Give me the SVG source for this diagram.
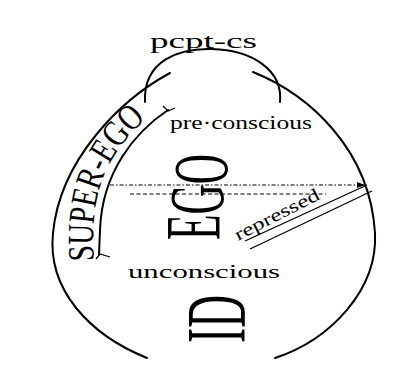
<svg xmlns="http://www.w3.org/2000/svg" width="403" height="365" viewBox="0 0 403 365">
<style>
.ln{fill:none;stroke:#000;stroke-width:2;stroke-linecap:round}
.thin{fill:none;stroke:#000;stroke-width:1.3}
.dash{fill:none;stroke:#000;stroke-width:1.2;stroke-dasharray:4 2.5}
.dashdot{fill:none;stroke:#000;stroke-width:1.2;stroke-dasharray:4 2 1.5 2}
.sm{font-family:"Liberation Serif",serif;fill:#000}
.big{font-family:"Liberation Serif",serif;fill:#000}
</style>
<defs>
<marker id="ah" markerWidth="8" markerHeight="6" refX="7" refY="3" orient="auto" markerUnits="userSpaceOnUse">
<path d="M0,0 L8,3 L0,6 Z" fill="#000"/>
</marker>
<path id="sep" d="M94,263 C90,200 100,160 148,117"/>
</defs>
<rect width="403" height="365" fill="#fff"/>
<g id="connectors">
<path id="outer-left" class="ln" d="M170,73 C120,100 60,160 53,233 C47,290 90,335 147,358"/>
<path id="outer-right" class="ln" d="M253,72 C310,95 370,150 375,233 C378,290 330,340 275,358"/>
<path id="pcpt-arc" class="ln" d="M145,102 C143,60 180,48 212,49 C252,50 283,70 280,102"/>
<path id="superego-arc" class="ln" d="M168,110 C135,132 102,172 100,230 L99,255"/>
<path class="thin" d="M163,106 L168,111 L175,108"/>
<path class="thin" d="M96,259 L100,254 L110,257"/>
<path id="line-pcs" class="dashdot" d="M110,185 L364,185" marker-end="url(#ah)"/>
<path id="line-ucs" class="dash" d="M130,194 L326,194"/>
<path class="thin" d="M367,185 L245,241"/>
<path class="thin" d="M372,191 L250,249"/>
</g>
<g id="pcpt-cs"><text class="sm" x="150" y="48" font-size="21" textLength="107" lengthAdjust="spacingAndGlyphs">pcpt-cs</text></g>
<g id="preconscious"><text class="sm" x="170" y="129" font-size="19" textLength="142" lengthAdjust="spacingAndGlyphs">pre·conscious</text></g>
<g id="unconscious"><text class="sm" x="128" y="278" font-size="19" textLength="152" lengthAdjust="spacingAndGlyphs">unconscious</text></g>
<g id="repressed"><text class="sm" transform="translate(238,241) rotate(-27)" font-size="18" textLength="93" lengthAdjust="spacingAndGlyphs">repressed</text></g>
<g id="super-ego"><text class="big" font-size="37"><textPath href="#sep" startOffset="2" textLength="158" lengthAdjust="spacingAndGlyphs">SUPER-EGO</textPath></text></g>
<g id="ego"><text class="big" transform="translate(219,240) rotate(-90)" font-size="78" textLength="86" lengthAdjust="spacingAndGlyphs">E<tspan dy="4">G</tspan><tspan dy="4">O</tspan></text></g>
<g id="id"><text class="big" transform="translate(245,343) rotate(-90)" font-size="84" textLength="48" lengthAdjust="spacingAndGlyphs">ID</text></g>
</svg>
